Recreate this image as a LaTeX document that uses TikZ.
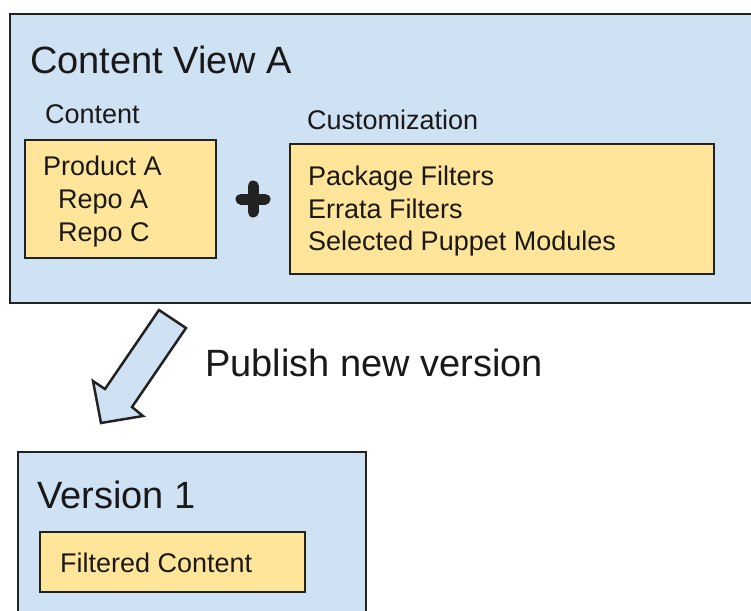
\documentclass[tikz,border=0pt]{standalone}
\usepackage{fontspec}
\setmainfont{Liberation Sans}
\definecolor{lblue}{HTML}{CFE2F3}
\definecolor{lyellow}{HTML}{FFE599}
\definecolor{edge}{HTML}{222222}
\begin{document}
\begin{tikzpicture}[x=1pt,y=-1pt,
  bluebox/.style={draw=edge, fill=lblue, line width=2.8pt, inner sep=0pt, outer sep=0pt, anchor=north west},
  yelbox/.style={draw=edge, fill=lyellow, line width=2.5pt, inner sep=0pt, outer sep=0pt, anchor=north west},
  big/.style={font=\fontsize{38}{46}\selectfont, inner sep=0pt, anchor=base west, text=black!90},
  small/.style={font=\fontsize{27}{32}\selectfont, inner sep=0pt, anchor=base west, text=black!90}]
\useasboundingbox (0,0) rectangle (751,610);
\clip (0,0) rectangle (751,610);
\fill[white] (0,0) rectangle (751,610);
% Content View A
\node[bluebox, minimum width=770pt, minimum height=289pt] (cva) at (10,14) {};
\node[big] (cvatitle) at (30,74) {Content View A};
\node[small] (contentlbl) at (45,123) {Content};
\node[small] (custlbl) at (307,129) {Customization};
\node[yelbox, minimum width=191pt, minimum height=118pt] (contentbox) at (25,140) {};
\node[small] (prodA) at (43,175) {Product A};
\node[small] (repoA) at (58,208) {Repo A};
\node[small] (repoC) at (58,241) {Repo C};
\node[yelbox, minimum width=424pt, minimum height=130pt] (custbox) at (290,144) {};
\node[small] (pkg) at (308,185) {Package Filters};
\node[small] (err) at (308,218) {Errata Filters};
\node[small] (pup) at (308,250) {Selected Puppet Modules};
% plus sign
\coordinate (plus) at (253,199);
\draw[line width=11pt, line cap=round, edge] ([yshift=-13pt]plus) -- ([yshift=13pt]plus)
  ([xshift=-12pt]plus) -- ([xshift=12pt]plus);
% publish arrow
\draw[draw=edge, fill=lblue, line width=2.5pt, line join=miter]
  (159,310) -- (186,328) -- (132,407) -- (143,416) -- (101,423) -- (93,381) -- (105,389) -- cycle;
\node[big] (publish) at (205,376) {Publish new version};
% Version 1
\node[bluebox, minimum width=348pt, minimum height=180pt] (v1) at (18,452) {};
\node[big] (v1title) at (37,508) {Version 1};
\node[yelbox, minimum width=265pt, minimum height=60pt] (filtbox) at (40,532) {};
\node[small] (filt) at (60,572) {Filtered Content};
\end{tikzpicture}
\end{document}
